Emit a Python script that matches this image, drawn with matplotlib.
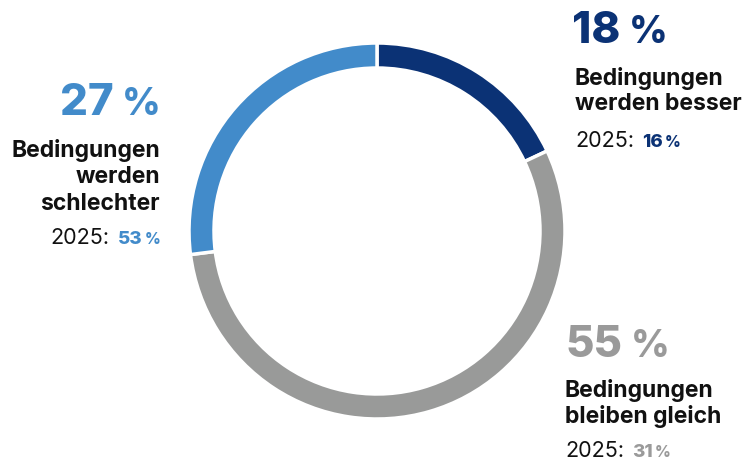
import matplotlib
matplotlib.use("Agg")
import matplotlib.pyplot as plt

# data
labels = ["Bedingungen\nwerden besser", "Bedingungen\nbleiben gleich", "Bedingungen\nwerden\nschlechter"]
shares = [18, 55, 27]
prev_shares = [16, 31, 53]
colors = ["#0b3275", "#999a99", "#428bca"]
text_colors = ["#0b3275", "#9a9a9a", "#428bca"]

plt.rcParams['font.family'] = ['Inter', 'DejaVu Sans']

W, H = 756, 464
fig = plt.figure(figsize=(W / 100, H / 100), dpi=100)
ax = fig.add_axes([0, 0, 1, 1])

ax.pie(shares, colors=colors, startangle=90, counterclock=False,
       radius=188, center=(377, H - 232),
       wedgeprops=dict(width=25, edgecolor="white", linewidth=2.5))
ax.set_xlim(0, W)
ax.set_ylim(0, H)
ax.set_aspect("equal")
ax.axis("off")

renderer = fig.canvas.get_renderer()


def row(x, top_px, parts, ha="left"):
    """draw text pieces side by side on one baseline; parts = (text, gap_after, kw)"""
    texts = []
    for s, gap, kw in parts:
        t = ax.text(0, H - top_px, s, ha="left", va="baseline", **kw)
        w = t.get_window_extent(renderer).width
        texts.append((t, w, gap))
    total = sum(w + g for _, w, g in texts) - texts[-1][2]
    cx = x if ha == "left" else x - total
    for t, w, g in texts:
        t.set_x(cx)
        cx += w + g


big = dict(fontsize=31.5, fontweight=800)
pct = dict(fontsize=27, fontweight=800)
lab = dict(fontsize=16.5, fontweight="bold", color="#111111")
yr = dict(fontsize=15.5, color="#111111")
sm = dict(fontsize=13.5, fontweight=800)
smp = dict(fontsize=11, fontweight=800)

# label blocks: x, baseline rows (pixels from top), alignment
blocks = [
    dict(x=572, big=43, lines=[85, 110], prev=147, ha="left", lx=575),
    dict(x=565, big=357, lines=[397, 423], prev=457, ha="left", lx=565),
    dict(x=161, big=115, lines=[157, 183, 210], prev=244, ha="right", lx=160),
]

for i, b in enumerate(blocks):
    c = text_colors[i]
    row(b["x"], b["big"], [(str(shares[i]), 9, dict(color=c, **big)),
                           ("%", 0, dict(color=c, **pct))], b["ha"])
    for line, base in zip(labels[i].split("\n"), b["lines"]):
        row(b["lx"], base, [(line, 0, lab)], b["ha"])
    row(b["lx"], b["prev"], [("2025:", 8, yr),
                             (str(prev_shares[i]), 2, dict(color=c, **sm)),
                             ("%", 0, dict(color=c, **smp))], b["ha"])

fig.savefig("out.png", dpi=100, facecolor="white")
